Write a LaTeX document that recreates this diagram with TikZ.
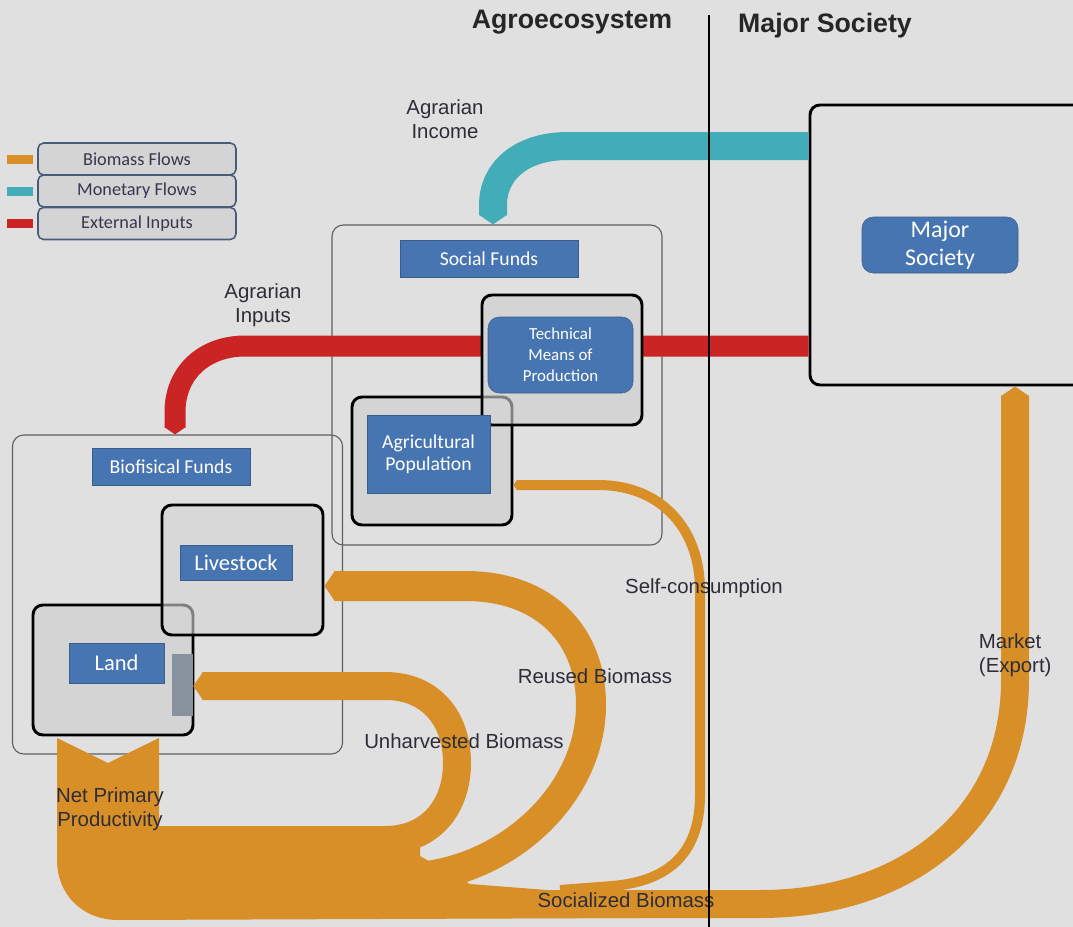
\documentclass[tikz,border=0pt]{standalone}
\usepackage{fontspec}
\newfontfamily\flowfont{Liberation Sans}
\newfontfamily\fundfont{Carlito}
\usepackage{xcolor}
\usetikzlibrary{arrows.meta, positioning}

\definecolor{colbg}{RGB}{224,224,224}
\definecolor{colbio}{RGB}{217,143,40}
\definecolor{colmoney}{RGB}{66,172,184}
\definecolor{colinput}{RGB}{203,36,36}
\definecolor{boxblue}{RGB}{70,117,177}
\definecolor{boxgray}{RGB}{212,212,212}
\definecolor{bargray}{RGB}{136,146,158}
\definecolor{legendedge}{RGB}{72,92,122}
\definecolor{legendtext}{RGB}{60,52,78}
\definecolor{labeltext}{RGB}{45,45,55}
\def\pxu{0.025cm}

\begin{document}
\begin{tikzpicture}[
    x=\pxu, y=-\pxu,
    groupbox/.style  = {draw=gray!75!black, line width=0.8pt, rounded corners=8pt, inner sep=0pt},
    blockbox/.style  = {draw=black, line width=2.1pt, rounded corners=7pt, fill=boxgray, inner sep=0pt},
    fundlabel/.style = {fill=boxblue, draw=boxblue!80!black, text=white, align=center, inner sep=0pt,
                        font=\fundfont\fontsize{14}{16}\selectfont},
    legendbox/.style = {draw=legendedge, line width=1.1pt, fill=boxgray, rounded corners=4pt,
                        minimum width=198*\pxu, minimum height=32*\pxu, text=legendtext,
                        font=\fundfont\fontsize{13}{15}\selectfont},
    swatch/.style    = {minimum width=26*\pxu, minimum height=9*\pxu, inner sep=0pt},
    flowlabel/.style = {font=\flowfont\fontsize{14.5}{17}\selectfont, text=labeltext, align=center},
    title/.style     = {font=\flowfont\bfseries\fontsize{19}{22}\selectfont, text=black!85},
    bioflow/.style   = {draw=colbio, line width=#1*\pxu, -{Triangle[length=0pt 0.35, width=0pt 1]}},
    bioflow/.default = 28,
    moneyflow/.style = {draw=colmoney, line width=28*\pxu, -{Triangle[length=0pt 0.35, width=0pt 1]}},
    inputflow/.style = {draw=colinput, line width=21*\pxu, -{Triangle[length=0pt 0.35, width=0pt 1]}},
    divider/.style   = {draw=black, line width=1pt}
]
\useasboundingbox[fill=colbg] (0,0) rectangle (1073,927);

\node[groupbox, minimum width=330*\pxu, minimum height=320*\pxu] (sfc) at (497,385) {};
\node[groupbox, minimum width=330*\pxu, minimum height=319*\pxu] (bfc) at (177.5,594.5) {};
\node[blockbox, fill=colbg, minimum width=275*\pxu, minimum height=280*\pxu] (maj) at (947.5,245) {};

\draw[inputflow] (maj.west |- 0,346) -- (245,346) .. controls (205,346) and (175,372) .. (175,412) -- (bfc.north -| 175,0);
\draw[moneyflow] (maj.west |- 0,146) -- (568,146) .. controls (520,146) and (493,172) .. (493,205) -- (sfc.north -| 493,0);

\fill[colbio] (57,738) -- (108,763) -- (159,738) -- (159,826) -- (420,826) -- (420,856) -- (470,884) -- (560,891)
    -- (640,918) -- (118,920) .. controls (83,920) and (57,895) .. (57,860) -- cycle;

\node[blockbox, draw=none, minimum width=160*\pxu, minimum height=130*\pxu] (techbase) at (562,360) {};
\node[blockbox, minimum width=160*\pxu, minimum height=128*\pxu] (agr) at (432,461) {};
\node[blockbox, fill opacity=0.6, minimum width=160*\pxu, minimum height=130*\pxu] (tech) at (562,360) {};
\node[blockbox, minimum width=160*\pxu, minimum height=130*\pxu] (land) at (113,670) {};
\node[blockbox, fill opacity=0.6, minimum width=161*\pxu, minimum height=130*\pxu] (live) at (242.5,570) {};
\node[fill=bargray, minimum width=21*\pxu, minimum height=62*\pxu, inner sep=0pt] (landbar) at (182.5,685) {};

\draw[bioflow=28] (330,840) -- (385,840) .. controls (432,840) and (457,805) .. (457,763)
    .. controls (457,720) and (432,686) .. (385,686) -- (landbar.east |- 0,686);
\draw[bioflow=30] (405,878) .. controls (505,875) and (591,795) .. (591,705)
    .. controls (591,635) and (545,586) .. (465,586) -- (live.east |- 0,586);
\draw[bioflow=10] (560,890) -- (612,886) .. controls (672,881) and (700,850) .. (700,795) -- (700,590)
    .. controls (700,530) and (662,485) .. (598,485) -- (agr.east |- 0,485);
\draw[bioflow=28] (410,904) -- (760,904) .. controls (905,904) and (1015,820) .. (1015,680) -- (maj.south -| 1015,0);

\node[fundlabel, minimum width=178*\pxu, minimum height=37*\pxu] (sflabel) at (489,258.5) {Social Funds};
\node[fundlabel, minimum width=158*\pxu, minimum height=37*\pxu] (bflabel) at (171,466.5) {Biofisical Funds};
\node[fundlabel, rounded corners=8pt, minimum width=145*\pxu, minimum height=76*\pxu,
      font=\fundfont\fontsize{12}{15}\selectfont] (techlabel) at (560.5,355) {Technical\\Means of\\Production};
\node[fundlabel, minimum width=123*\pxu, minimum height=78*\pxu] (agrlabel) at (428.5,454) {Agricultural\\Population};
\node[fundlabel, minimum width=112*\pxu, minimum height=35*\pxu,
      font=\fundfont\fontsize{16}{18}\selectfont] (livelabel) at (236,562.5) {Livestock};
\node[fundlabel, minimum width=95*\pxu, minimum height=40*\pxu,
      font=\fundfont\fontsize{16}{18}\selectfont] (landlabel) at (116.5,663) {Land};
\node[fundlabel, rounded corners=8pt, minimum width=156*\pxu, minimum height=56*\pxu,
      font=\fundfont\fontsize{17}{20}\selectfont] (majlabel) at (940,245) {Major\\Society};

\node[legendbox] (legbio) at (137,159) {Biomass Flows};
\node[legendbox] (legmon) at (137,191) {Monetary Flows};
\node[legendbox] (legext) at (137,223.5) {External Inputs};
\node[swatch, fill=colbio, left=0.1cm of legbio] (swbio) {};
\node[swatch, fill=colmoney, left=0.1cm of legmon] (swmon) {};
\node[swatch, fill=colinput, left=0.1cm of legext] (swext) {};

\node[flowlabel] (lblincome) at (445,119) {Agrarian\\Income};
\node[flowlabel] (lblinputs) at (263,305) {Agrarian\\Inputs};
\node[flowlabel] (lblnpp) at (110,809) {Net Primary\\Productivity};
\node[flowlabel] (lblunharv) at (464,741) {Unharvested Biomass};
\node[flowlabel] (lblreused) at (595,676) {Reused Biomass};
\node[flowlabel] (lblself) at (704,588) {Self-consumption};
\node[flowlabel] (lblsocial) at (626,900) {Socialized Biomass};
\node[flowlabel, align=left, anchor=west] (lblmarket) at (974,655) {Market\\(Export)};

\draw[divider] (709,15) -- (709,927);
\node[title] (ttlagro) at (572,22) {Agroecosystem};
\node[title] (ttlmajor) at (825,26) {Major Society};
\end{tikzpicture}
\end{document}
